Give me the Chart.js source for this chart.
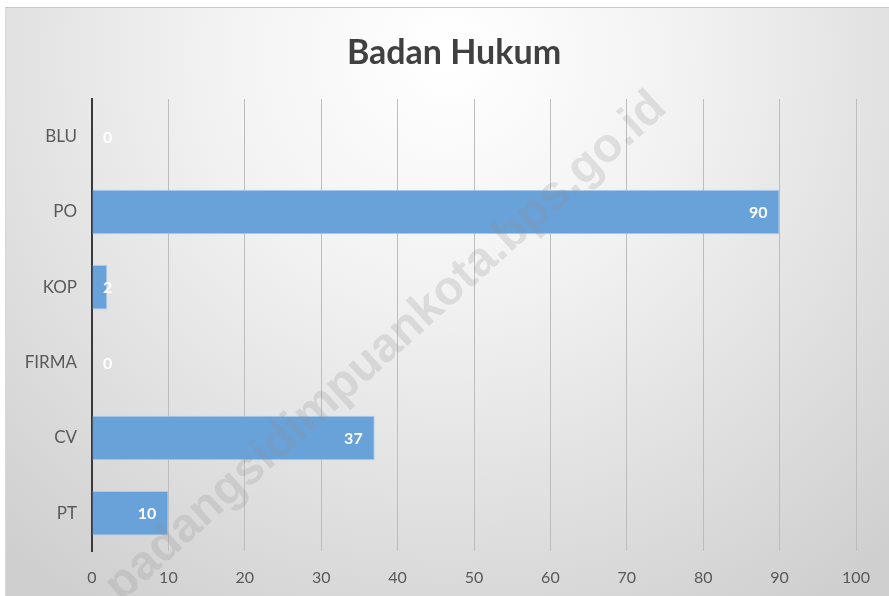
<!DOCTYPE html>
<html>
<head>
<meta charset="utf-8">
<script src="https://cdn.jsdelivr.net/npm/chart.js@4/dist/chart.umd.min.js"></script>
<style>
  html, body { margin: 0; padding: 0; background: #ffffff; }
  #wrap { position: absolute; left: 5px; top: 7px; width: 884px; height: 589px; border-top: 1px solid #c8c8c8; border-left: 1px solid #d8d8d8; box-sizing: border-box; }
  canvas { display: block; }
</style>
</head>
<body>
<div id="wrap"><canvas id="c"></canvas></div>
<script>
const categories = ["BLU", "PO", "KOP", "FIRMA", "CV", "PT"];
const values = [0, 90, 2, 0, 37, 10];
const xTicks = [0, 10, 20, 30, 40, 50, 60, 70, 80, 90, 100];
const titleText = "Badan Hukum";
const watermarkText = "padangsidimpuankota.bps.go.id";

const FONT = "Lato, 'Open Sans', sans-serif";

const bgPlugin = {
  id: 'bg',
  beforeDraw(chart) {
    const ctx = chart.ctx, w = chart.width, h = chart.height;
    ctx.save();
    const g = ctx.createRadialGradient(w * 0.5, h * 0.08, 10, w * 0.5, h * 0.08, w * 0.75);
    g.addColorStop(0, '#ffffff');
    g.addColorStop(0.35, '#f2f2f2');
    g.addColorStop(1, '#cfcfcf');
    ctx.fillStyle = g;
    ctx.fillRect(0, 0, w, h);
    ctx.restore();
  }
};

const titlePlugin = {
  id: 'titleText',
  afterDraw(chart) {
    const ctx = chart.ctx;
    ctx.save();
    ctx.font = "bold 34px " + FONT;
    ctx.fillStyle = '#404040';
    ctx.textAlign = 'center';
    ctx.textBaseline = 'middle';
    ctx.fillText(titleText, 448, 45);
    ctx.restore();
  }
};

const labelPlugin = {
  id: 'barLabels',
  afterDatasetsDraw(chart) {
    const ctx = chart.ctx;
    const meta = chart.getDatasetMeta(0);
    const xs = chart.scales.x;
    const base = xs.getPixelForValue(0);
    ctx.save();
    ctx.font = "bold 16px " + FONT;
    ctx.fillStyle = '#ffffff';
    ctx.textBaseline = 'middle';
    ctx.textAlign = 'right';
    meta.data.forEach((bar, i) => {
      const txt = String(values[i]);
      const tw = ctx.measureText(txt).width;
      let x = bar.x - 12;
      if (x < base + 12 + tw) x = base + 11 + tw;
      ctx.fillText(txt, x, bar.y + 1);
    });
    ctx.restore();
  }
};

const watermarkPlugin = {
  id: 'watermark',
  afterDraw(chart) {
    const ctx = chart.ctx;
    ctx.save();
    ctx.translate(380, 339);
    ctx.rotate(-42 * Math.PI / 180);
    ctx.font = "bold 48px 'Liberation Sans', Arial, sans-serif";
    ctx.fillStyle = 'rgba(140,140,140,0.22)';
    ctx.textAlign = 'center';
    ctx.textBaseline = 'middle';
    ctx.fillText(watermarkText, 0, 0);
    ctx.restore();
  }
};

new Chart(document.getElementById('c'), {
  type: 'bar',
  data: {
    labels: categories,
    datasets: [{
      data: values,
      backgroundColor: '#69a2d9',
      borderColor: '#a9cbec',
      borderWidth: 1,
      borderSkipped: 'start',
      categoryPercentage: 1,
      barPercentage: 0.59
    }]
  },
  options: {
    indexAxis: 'y',
    responsive: true,
    maintainAspectRatio: false,
    animation: false,
    devicePixelRatio: 1,
    layout: { padding: { left: 0, right: 33, top: 91, bottom: 0 } },
    plugins: {
      legend: { display: false },
      tooltip: { enabled: false },
      title: { display: false }
    },
    scales: {
      x: {
        min: 0, max: 100,
        afterBuildTicks(scale) { scale.ticks = xTicks.map(v => ({ value: v })); },
        afterFit(scale) { scale.height = 45; },
        grid: { display: true, color: '#bdbdbd', lineWidth: 1, drawTicks: false },
        border: { display: false },
        ticks: { color: '#595959', font: { family: FONT, size: 16 }, padding: 17 }
      },
      y: {
        afterFit(scale) { scale.width = 86; },
        grid: { display: false, drawTicks: false },
        border: { display: true, color: '#3a3a3a', width: 2 },
        ticks: { color: '#595959', font: { family: FONT, size: 17 }, padding: 15 }
      }
    }
  },
  plugins: [bgPlugin, labelPlugin, watermarkPlugin, titlePlugin]
});
</script>
</body>
</html>
